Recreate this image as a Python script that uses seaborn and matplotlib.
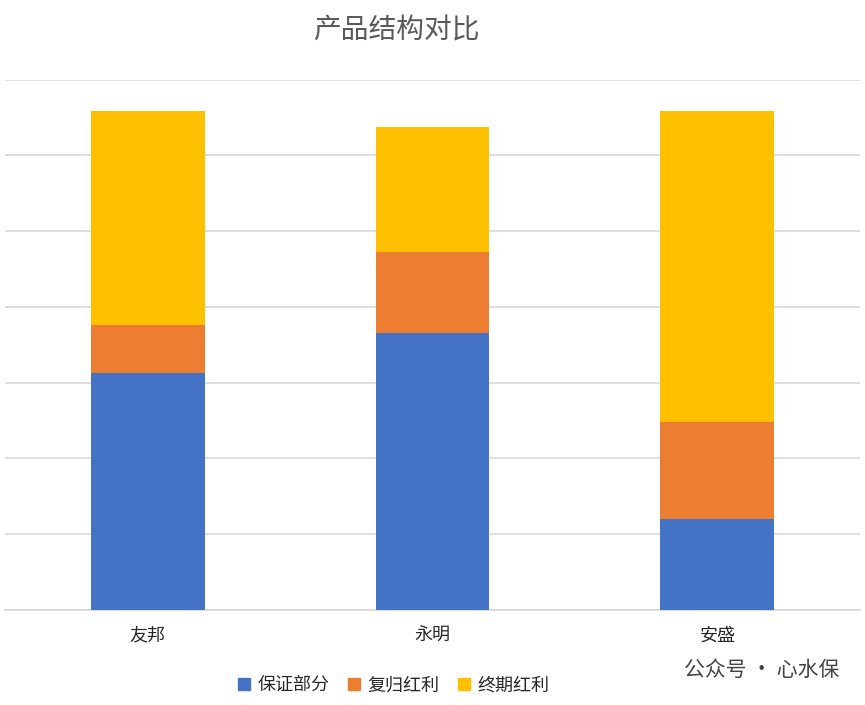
import matplotlib
matplotlib.use("Agg")
import matplotlib.pyplot as plt
import seaborn as sns
import numpy as np
import pandas as pd

categories = ["友邦", "永明", "安盛"]
guaranteed = [3.13, 3.65, 1.20]
reversionary = [0.63, 1.08, 1.28]
terminal = [2.82, 1.65, 4.11]
series_names = ["保证部分", "复归红利", "终期红利"]
colors = ["#4472C4", "#ED7D31", "#FFC000"]

sns.set_theme(style="white")
plt.rcParams['font.family'] = ['Noto Sans CJK SC', 'DejaVu Sans']

fig = plt.figure(figsize=(8.65, 7.05), dpi=100)
ax = fig.add_axes([0.006, 0.135, 0.988, 0.752])

g = np.array(guaranteed); r = np.array(reversionary); t = np.array(terminal)
layers = [g + r + t, g + r, g]
for vals, col in zip(layers, colors[::-1]):
    df = pd.DataFrame({"cat": categories, "v": vals})
    sns.barplot(data=df, x="cat", y="v", color=col, width=0.4, ax=ax, saturation=1,
                zorder=3, linewidth=0)

ax.set_ylim(0, 7)
ax.set_yticks(range(0, 8))
ax.set_yticklabels([])
ax.tick_params(axis='y', length=0)
ax.tick_params(axis='x', length=0, labelsize=13, pad=12)
ax.grid(axis='y', color="#D9D9D9", linewidth=1.2, zorder=0)
ax.set_axisbelow(True)
ax.set_xlabel(""); ax.set_ylabel("")
for s in ["top", "right", "left"]:
    ax.spines[s].set_visible(False)
ax.spines["bottom"].set_color("#D9D9D9")
ax.set_xlim(-0.50, 2.50)

fig.text(0.458, 0.957, "产品结构对比", ha="center", va="center", fontsize=20, color="#595959")

handles = [plt.Rectangle((0, 0), 1, 1, color=c) for c in colors]
fig.legend(handles, series_names, loc="center", bbox_to_anchor=(0.455, 0.028), ncol=3,
           frameon=False, fontsize=13, handlelength=0.7, handleheight=0.7, columnspacing=1.0, handletextpad=0.4)

fig.text(0.97, 0.05, "公众号 · 心水保", ha="right", va="center", fontsize=15, color="#444444")

fig.savefig("out.png", dpi=100)
